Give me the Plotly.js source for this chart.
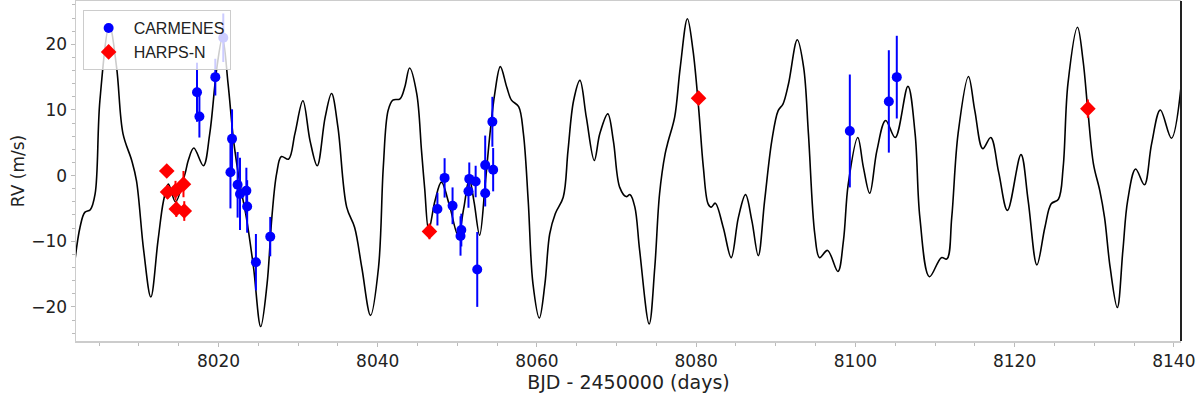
<!DOCTYPE html>
<html>
<head>
<meta charset="utf-8">
<script src="https://cdn.plot.ly/plotly-3.0.1.min.js"></script>
<style>
  html, body { margin: 0; padding: 0; background: #fff; }
  #plot { width: 1200px; height: 393px; }
</style>
</head>
<body>
<div id="plot"></div>
<script>
// model curve at its peaks, troughs and bends
let modelX = [8002.0, 8002.6, 8003.2, 8003.9, 8004.5, 8005.1, 8006.3, 8007.2, 8008.0, 8009.1,
  8009.7, 8010.6, 8011.5, 8012.4, 8013.1, 8013.7, 8014.6, 8015.8, 8016.2, 8016.9,
  8018.1, 8018.9, 8019.8, 8020.5, 8021.2, 8021.9, 8022.7, 8023.5, 8024.4, 8025.3,
  8026.1, 8026.7, 8027.3, 8027.9, 8028.8, 8029.6, 8030.6, 8031.5, 8032.4, 8033.4,
  8034.2, 8035.0, 8036.1, 8037.1, 8038.0, 8039.1, 8040.1, 8040.7, 8041.3, 8041.9,
  8042.8, 8043.4, 8044.0, 8044.9, 8045.5, 8045.9, 8046.4, 8047.2, 8048.0, 8049.0,
  8050.1, 8050.8, 8051.5, 8052.1, 8052.8, 8053.5, 8054.1, 8054.7, 8055.4, 8056.2,
  8056.8, 8057.7, 8058.3, 8058.9, 8059.5, 8060.3, 8061.0, 8061.6, 8062.3, 8063.3,
  8063.9, 8064.6, 8065.4, 8066.2, 8067.2, 8067.9, 8068.9, 8069.6, 8070.4, 8071.2,
  8071.7, 8072.3, 8072.9, 8074.1, 8074.8, 8075.4, 8076.1, 8076.5, 8077.3, 8078.0,
  8078.9, 8079.6, 8080.3, 8080.9, 8081.5, 8081.9, 8082.4, 8083.4, 8084.4, 8085.3,
  8086.2, 8087.0, 8087.8, 8088.6, 8089.5, 8090.3, 8090.9, 8091.6, 8092.7, 8093.5,
  8094.1, 8094.9, 8095.5, 8096.5, 8097.8, 8098.5, 8099.1, 8100.3, 8101.0, 8101.8,
  8102.7, 8103.8, 8105.0, 8106.6, 8107.5, 8108.1, 8109.3, 8110.8, 8111.5, 8112.1,
  8112.9, 8114.2, 8115.0, 8116.0, 8117.0, 8118.0, 8119.1, 8120.8, 8121.7, 8122.8,
  8123.8, 8124.6, 8125.5, 8126.1, 8126.7, 8127.9, 8128.6, 8129.2, 8129.9, 8130.7,
  8131.3, 8132.0, 8132.9, 8133.6, 8134.2, 8135.2, 8136.3, 8137.2, 8138.3, 8139.7,
  8140.9];
let modelY = [-12.6, -7.9, -5.6, -5.2, -2.8, 11.4, 22.9, 16.5, 6.4, 2.3,
  -0.8, -11.4, -18.5, -9.9, -3.8, -1.3, -4.0, 0.3, 2.3, 4.2,
  1.5, 6.4, 16.5, 21.0, 14.0, 5.3, -1.3, -6.4, -14.0, -23.0,
  -16.5, -6.4, 0.3, 2.9, 2.5, 6.4, 11.4, 5.3, 1.5, 8.9,
  12.5, 7.4, -4.8, -7.9, -14.0, -21.3, -14.0, 1.3, 9.9, 11.5,
  11.7, 13.5, 16.4, 12.5, 3.8, -2.0, -8.3, -3.8, -1.0, -4.5,
  -9.1, -5.0, -0.5, -4.0, -9.1, -1.3, 6.4, 12.5, 16.6, 13.5,
  11.5, 10.5, 6.4, -3.8, -16.5, -21.7, -16.5, -8.9, -5.8, -3.3,
  3.8, 11.4, 14.5, 8.9, 2.3, 6.4, 9.4, 5.3, -1.8, -3.2,
  -2.9, -4.8, -11.4, -22.6, -14.0, -2.8, 3.3, 5.3, 8.9, 16.5,
  23.9, 19.1, 10.4, 1.3, -4.3, -4.8, -4.2, -7.9, -12.5, -6.4,
  -2.9, -6.9, -12.2, -3.8, 5.3, 9.9, 10.9, 14.0, 20.7, 16.5,
  6.4, -8.9, -12.5, -11.4, -14.6, -9.9, -1.3, 5.8, 1.3, -2.7,
  3.8, 8.4, 5.8, 13.6, 6.4, -6.4, -15.4, -12.5, -12.7, -6.4,
  6.4, 15.1, 9.9, 4.1, 5.8, 0.5, -5.3, 3.2, -3.8, -13.6,
  -7.9, -4.3, -3.6, 1.3, 14.0, 22.6, 17.5, 9.9, 1.8, -2.3,
  -6.4, -14.0, -20.1, -11.4, -3.8, 1.0, -1.4, 4.8, 10.0, 5.7,
  13.5];

// CARMENES radial velocities
let carmX = [8017.3, 8017.6, 8019.6, 8020.6, 8021.5, 8021.7, 8022.4, 8022.7, 8023.5, 8023.6,
  8024.7, 8026.5, 8047.5, 8048.4, 8049.4, 8050.4, 8050.5, 8051.4, 8051.5, 8052.3,
  8052.5, 8053.5, 8053.5, 8054.4, 8054.5, 8099.3, 8104.2, 8105.2];
let carmY = [12.7, 9.0, 15.0, 21.0, 0.5, 5.6, -1.4, -2.8, -2.3, -4.7,
  -13.2, -9.3, -5.1, -0.35, -4.6, -9.2, -8.3, -2.4, -0.5, -0.9,
  -14.3, 1.6, -2.7, 8.2, 0.9, 6.8, 11.3, 15.0];
let carmErr = [4.5, 3.2, 2.8, 3.7, 5.5, 4.5, 5.0, 5.5, 3.5, 4.0,
  4.3, 3.0, 2.5, 3.0, 2.8, 3.0, 2.5, 2.5, 2.5, 2.4,
  5.7, 4.5, 2.0, 3.8, 3.3, 8.6, 7.8, 6.3];

// HARPS-N radial velocities
let harpsX = [8013.5, 8013.6, 8014.6, 8014.7, 8015.6, 8015.7, 8046.5, 8080.3, 8129.2];
let harpsY = [0.7, -2.5, -2.3, -5.1, -1.3, -5.4, -8.5, 11.8, 10.2];
let harpsErr = [0.8, 1.0, 1.5, 1.2, 2.0, 1.5, 1.2, 1.0, 1.4];

let model = {
  x: modelX,
  y: modelY,
  mode: "lines",
  line: {color: "black", width: 1.6, shape: "spline", smoothing: 1},
  showlegend: false,
  hoverinfo: "skip"
};
let carmenes = {
  x: carmX,
  y: carmY,
  name: "CARMENES",
  mode: "markers",
  marker: {color: "#0000ff", size: 10, symbol: "circle"},
  error_y: {type: "data", array: carmErr, visible: true, color: "#0000ff", thickness: 2, width: 0}
};
let harps = {
  x: harpsX,
  y: harpsY,
  name: "HARPS-N",
  mode: "markers",
  marker: {color: "#ff0000", size: 12, symbol: "diamond"},
  error_y: {type: "data", array: harpsErr, visible: true, color: "#ff0000", thickness: 2, width: 0}
};

let tickFont = {family: "DejaVu Sans", size: 17, color: "#222"};

let layout = {
  width: 1200,
  height: 393,
  margin: {l: 76, r: 19, t: 1, b: 52},
  paper_bgcolor: "white",
  plot_bgcolor: "white",
  showlegend: true,
  legend: {
    x: 0.006, y: 0.973, xanchor: "left", yanchor: "top",
    bgcolor: "rgba(255,255,255,0.8)",
    bordercolor: "#cccccc", borderwidth: 1,
    font: {family: "Liberation Sans", size: 16, color: "#222"},
    itemwidth: 40,
    tracegroupgap: 0
  },
  xaxis: {
    range: [8002.1, 8140.9],
    tickvals: [8020, 8040, 8060, 8080, 8100, 8120, 8140],
    ticks: "outside", ticklen: 4, tickcolor: "#bbbbbb",
    minor: {dtick: 5, tick0: 8000, ticks: "outside", ticklen: 3, tickcolor: "#bbbbbb"},
    showgrid: false, zeroline: false,
    showline: true, linecolor: "#cccccc", linewidth: 1.5, mirror: true,
    tickfont: tickFont,
    title: {text: "BJD - 2450000 (days)", font: {family: "DejaVu Sans", size: 19, color: "#222"}, standoff: 6}
  },
  yaxis: {
    range: [-25.2, 26.6],
    tickvals: [-20, -10, 0, 10, 20],
    ticks: "outside", ticklen: 4, tickcolor: "#bbbbbb",
    minor: {dtick: 2, tick0: 0, ticks: "outside", ticklen: 3, tickcolor: "#bbbbbb"},
    showgrid: false, zeroline: false,
    showline: true, linecolor: "#cccccc", linewidth: 1.5,
    tickfont: tickFont,
    title: {text: "RV (m/s)", font: {family: "DejaVu Sans", size: 17, color: "#222"}, standoff: 2}
  },
  shapes: [
    {type: "line", xref: "paper", yref: "paper", x0: 1, x1: 1, y0: 0, y1: 1,
     line: {color: "#222222", width: 2}}
  ]
};

Plotly.newPlot("plot", [model, carmenes, harps], layout, {displayModeBar: false, staticPlot: true});
</script>
</body>
</html>
